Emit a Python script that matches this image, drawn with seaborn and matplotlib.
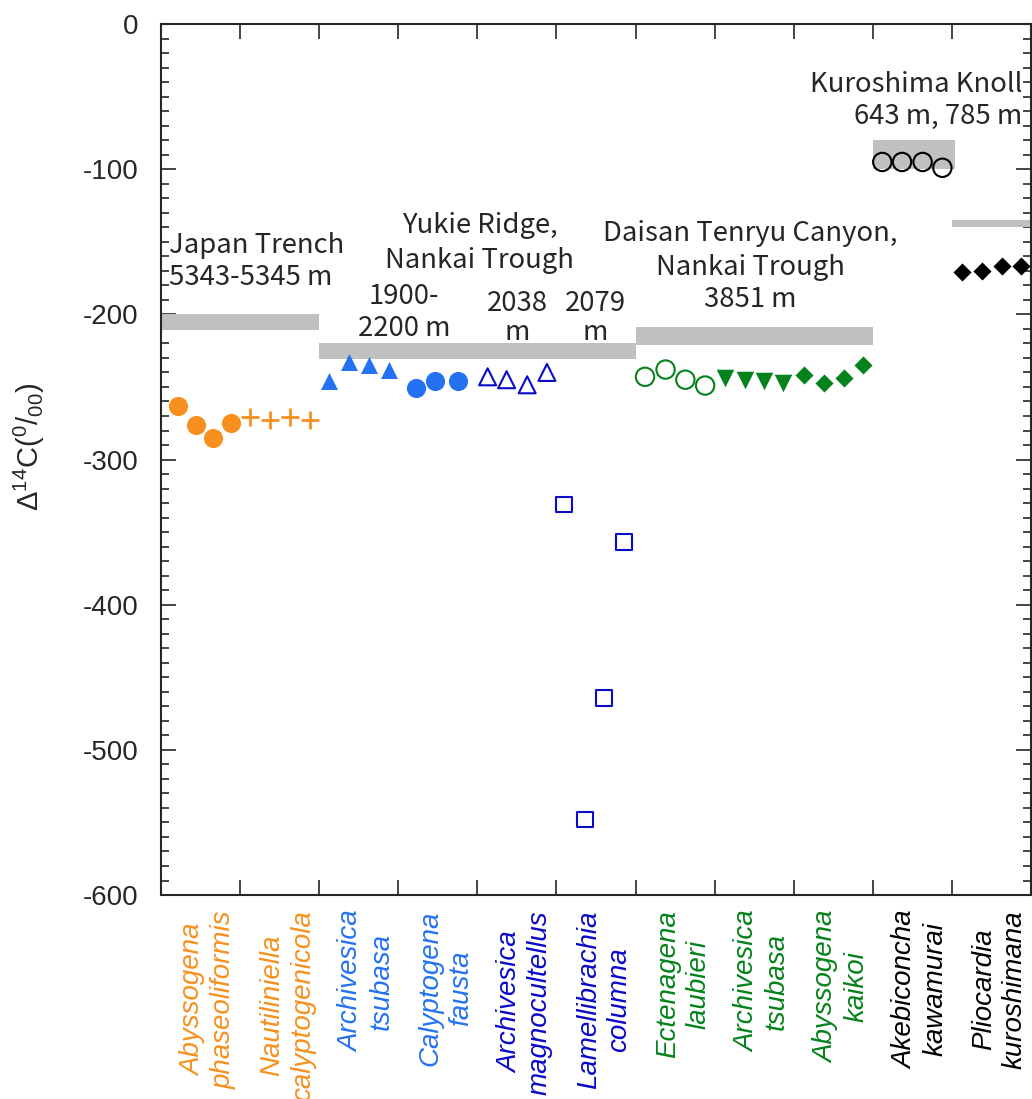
"""
Radiocarbon (Delta 14C) of chemosynthetic fauna by taxon and site.
Values read off the published figure.
"""

import numpy as np
import matplotlib
matplotlib.use("Agg")
import matplotlib.pyplot as plt
import matplotlib.transforms as mtransforms
from matplotlib.ticker import MultipleLocator, FixedLocator
import seaborn as sns

# ----------------------------------------------------------
# 1. Data
# ----------------------------------------------------------
taxa = [
    "Abyssogena\nphaseoliformis",
    "Nautiliniella\ncalyptogenicola",
    "Archivesica\ntsubasa",
    "Calyptogena\nfausta",
    "Archivesica\nmagnocultellus",
    "Lamellibrachia\ncolumna",
    "Ectenagena\nlaubieri",
    "Archivesica\ntsubasa",
    "Abyssogena\nkaikoi",
    "Akebiconcha\nkawamurai",
    "Pliocardia\nkuroshimana",
]
orange = "#f7901e"
blue = "#2472f2"
navy = "#0a0ac8"
green = "#05821c"
taxa_colors = [orange, orange, blue, blue, navy, navy, green, green, green, "black", "black"]

# specimen x position is in taxon units (0 = left edge of first taxon)
ab_phaseoliformis_x = [0.22, 0.44, 0.66, 0.88]
ab_phaseoliformis_y = [-263, -276, -285, -275]
nautiliniella_x = [1.13, 1.38, 1.63, 1.88]
nautiliniella_y = [-271, -273, -270.5, -273]
ar_tsubasa_yukie_x = [2.13, 2.38, 2.63, 2.88]
ar_tsubasa_yukie_y = [-246, -233, -235, -238]
ca_fausta_x = [3.22, 3.47, 3.75]
ca_fausta_y = [-251, -246, -246]
ar_magnocultellus_x = [4.13, 4.37, 4.63, 4.88]
ar_magnocultellus_y = [-243, -245, -248.5, -240]
lamellibrachia_x = [5.10, 5.36, 5.60, 5.85]
lamellibrachia_y = [-331, -548, -464, -357]
ec_laubieri_x = [6.12, 6.38, 6.63, 6.88]
ec_laubieri_y = [-243, -238, -245, -249]
ar_tsubasa_daisan_x = [7.13, 7.38, 7.63, 7.87]
ar_tsubasa_daisan_y = [-244, -245, -246, -247]
ab_kaikoi_x = [8.13, 8.38, 8.63, 8.88]
ab_kaikoi_y = [-242, -247.5, -244, -235]
akebiconcha_x = [9.12, 9.37, 9.63, 9.88]
akebiconcha_y = [-95, -95, -95, -99]
pliocardia_x = [10.13, 10.38, 10.63, 10.88]
pliocardia_y = [-171, -170, -166.5, -167]

# ambient bottom-water Delta 14C ranges (grey bands)
band_x0 = [0, 2, 6, 9, 10]
band_x1 = [2, 6, 9, 10.04, 11]
band_lo = [-211, -231, -221, -100, -140]
band_hi = [-200, -220, -209, -80, -135]

y_ticks = [0, -100, -200, -300, -400, -500, -600]
y_tick_labels = ["0", "-100", "-200", "-300", "-400", "-500", "-600"]

# ----------------------------------------------------------
# 2. Style
# ----------------------------------------------------------
sns.set_style("ticks")
plt.rcParams["font.family"] = ["Liberation Sans", "DejaVu Sans"]
plt.rcParams["mathtext.fontset"] = "custom"
plt.rcParams["mathtext.rm"] = "Liberation Sans"
plt.rcParams["mathtext.it"] = "Liberation Sans:italic"
plt.rcParams["axes.unicode_minus"] = False

fig = plt.figure(figsize=(10.32, 10.99), dpi=100)
ax = fig.add_axes([0.156, 0.1856, 0.843, 0.7925])

# ----------------------------------------------------------
# 3. Grey bands
# ----------------------------------------------------------
for x0, x1, lo, hi in zip(band_x0, band_x1, band_lo, band_hi):
    ax.fill_between([x0, x1], lo, hi, color="#c0c0c0", lw=0, zorder=1)

# ----------------------------------------------------------
# 4. Specimens
# ----------------------------------------------------------
filled = [
    (ab_phaseoliformis_x, ab_phaseoliformis_y, "o", orange, 190),
    (ar_tsubasa_yukie_x, ar_tsubasa_yukie_y, "^", blue, 150),
    (ca_fausta_x, ca_fausta_y, "o", blue, 190),
    (ar_tsubasa_daisan_x, ar_tsubasa_daisan_y, "v", green, 160),
    (ab_kaikoi_x, ab_kaikoi_y, "D", green, 85),
    (pliocardia_x, pliocardia_y, "D", "black", 85),
]
for x, y, m, c, s in filled:
    sns.scatterplot(x=x, y=y, ax=ax, marker=m, color=c, s=s, linewidth=0, zorder=3)

hollow = [
    (ar_magnocultellus_x, ar_magnocultellus_y, "^", navy, 150),
    (lamellibrachia_x, lamellibrachia_y, "s", navy, 130),
    (ec_laubieri_x, ec_laubieri_y, "o", green, 175),
    (akebiconcha_x, akebiconcha_y, "o", "black", 175),
]
for x, y, m, c, s in hollow:
    sns.scatterplot(x=x, y=y, ax=ax, marker=m, color=c, facecolor="none",
                    edgecolor=c, s=s, linewidth=1.5, zorder=3)

sns.scatterplot(x=nautiliniella_x, y=nautiliniella_y, ax=ax, marker="+",
                color=orange, s=165, linewidth=2, zorder=3)

# ----------------------------------------------------------
# 5. Site annotations (one entry per line, y = baseline)
# ----------------------------------------------------------
site_lines = [
    ("Japan Trench", 0.10, -157.7, "left"),
    ("5343-5345 m", 0.10, -179.8, "left"),
    ("Yukie Ridge,", 4.03, -144.0, "center"),
    ("Nankai Trough", 4.03, -168.3, "center"),
    ("1900-", 3.07, -192.9, "center"),
    ("2200 m", 3.07, -214.9, "center"),
    ("2038", 4.51, -197.5, "center"),
    ("m", 4.51, -217.5, "center"),
    ("2079", 5.49, -197.5, "center"),
    ("m", 5.49, -217.5, "center"),
    ("Daisan Tenryu Canyon,", 7.45, -149.3, "center"),
    ("Nankai Trough", 7.45, -172.9, "center"),
    ("3851 m", 7.45, -194.7, "center"),
    ("Kuroshima Knoll", 10.89, -46.6, "right"),
    ("643 m, 785 m", 10.89, -68.9, "right"),
]
for txt, x, y, ha in site_lines:
    ax.text(x, y, txt, ha=ha, va="baseline", fontsize=19.8,
            family=["Noto Sans CJK JP", "DejaVu Sans"], zorder=4)

# ----------------------------------------------------------
# 6. Axes
# ----------------------------------------------------------
ax.set_xlim(0, 11)
ax.set_ylim(-600, 0)
for sp in ax.spines.values():
    sp.set_linewidth(1.5)

ax.xaxis.set_major_locator(FixedLocator(np.arange(12)))
ax.set_xticks(np.arange(11) + 0.5, minor=True)
ax.set_xticklabels(taxa, minor=True, rotation=90, style="italic",
                   fontsize=20, multialignment="center")
ax.tick_params(axis="x", which="major", direction="in", length=11, width=1.2,
               top=True, bottom=True, labelbottom=False)
ax.tick_params(axis="x", which="minor", length=0, pad=11)
shift = mtransforms.ScaledTranslation(0.08, 0, fig.dpi_scale_trans)
for lab, c in zip(ax.get_xticklabels(minor=True), taxa_colors):
    lab.set_color(c)
    lab.set_transform(lab.get_transform() + shift)

ax.set_yticks(y_ticks)
ax.set_yticklabels(y_tick_labels, fontsize=20)
ax.yaxis.set_minor_locator(MultipleLocator(10))
ax.tick_params(axis="y", which="major", direction="in", length=10.5, width=1.2,
               left=True, right=True, pad=16)
ax.tick_params(axis="y", which="minor", direction="in", length=5.5, width=1.2,
               left=True, right=True)

ax.set_xlabel("")
ax.set_ylabel(r"$\mathregular{\Delta^{14}C(^{0}/_{00})}$", fontsize=21)
ax.yaxis.set_label_coords(-0.131, 0.514)

plt.savefig("out.png", dpi=100)
